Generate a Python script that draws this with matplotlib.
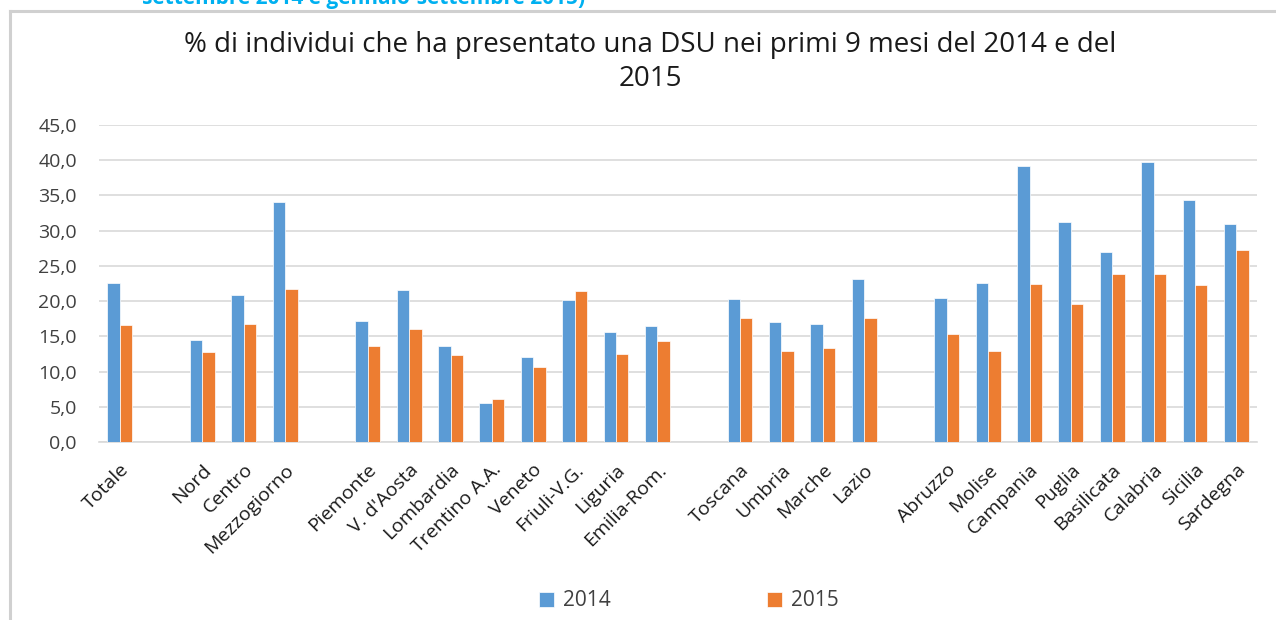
import numpy as np
import matplotlib
matplotlib.use("Agg")
from matplotlib import pyplot as plt
import matplotlib.transforms as mtrans
from matplotlib.lines import Line2D
from matplotlib.patches import Patch
from matplotlib.ticker import FuncFormatter

# categories (empty strings are the gaps between groups)
categories = ["Totale", "",
              "Nord", "Centro", "Mezzogiorno", "",
              "Piemonte", "V. d'Aosta", "Lombardia", "Trentino A.A.", "Veneto",
              "Friuli-V.G.", "Liguria", "Emilia-Rom.", "",
              "Toscana", "Umbria", "Marche", "Lazio", "",
              "Abruzzo", "Molise", "Campania", "Puglia", "Basilicata",
              "Calabria", "Sicilia", "Sardegna"]

nan = np.nan
val_2014 = [22.6, nan,
            14.5, 20.9, 34.0, nan,
            17.2, 21.6, 13.6, 5.5, 12.1, 20.1, 15.6, 16.4, nan,
            20.3, 17.1, 16.8, 23.1, nan,
            20.4, 22.6, 39.2, 31.2, 27.0, 39.7, 34.4, 30.9]
val_2015 = [16.6, nan,
            12.8, 16.8, 21.7, nan,
            13.6, 16.1, 12.3, 6.1, 10.6, 21.4, 12.5, 14.3, nan,
            17.6, 12.9, 13.3, 17.6, nan,
            15.3, 12.9, 22.4, 19.6, 23.9, 23.8, 22.3, 27.2]

series_names = ["2014", "2015"]
c_blue = "#5B9BD5"
c_orange = "#ED7D31"
grid_c = "#D9D9D9"
txt_c = "#404040"

plt.rcParams['font.family'] = ['Open Sans', 'DejaVu Sans']

W, H = 1276, 620
fig = plt.figure(figsize=(W / 100, H / 100), dpi=100)
ax = fig.add_axes([99 / W, 1 - 442 / H, (1257 - 99) / W, 317 / H])

x = np.arange(len(categories))
bw = 0.3
ax.bar(x - bw / 2, val_2014, bw, color=c_blue, edgecolor="white", linewidth=0.5, zorder=3)
ax.bar(x + bw / 2, val_2015, bw, color=c_orange, edgecolor="white", linewidth=0.5, zorder=3)

ax.set_xlim(-0.5, len(categories) - 0.5)
ax.set_ylim(0, 45)
ax.set_yticks(np.arange(0, 46, 5))
ax.yaxis.set_major_formatter(FuncFormatter(lambda v, p: f"{v:.1f}".replace(".", ",")))
ax.grid(axis="y", color=grid_c, linewidth=1.2, zorder=0)
for s in ["top", "right", "left"]:
    ax.spines[s].set_visible(False)
ax.spines["bottom"].set_color(grid_c)
ax.spines["bottom"].set_linewidth(1.2)
ax.tick_params(axis="y", length=0, pad=16, labelsize=14, labelcolor=txt_c)

ax.set_xticks(x)
ax.set_xticklabels(categories, rotation=45, ha="right", va="center",
                   rotation_mode="anchor", fontsize=14, color="#1a1a1a")
ax.tick_params(axis="x", length=0, pad=18)
offset = mtrans.ScaledTranslation(6 / 100, 0, fig.dpi_scale_trans)
for lab in ax.get_xticklabels():
    lab.set_transform(lab.get_transform() + offset)

fig.text(650 / W, 1 - 62 / H,
         "% di individui che ha presentato una DSU nei primi 9 mesi del 2014 e del\n2015",
         ha="center", va="center", fontsize=20, color="#1a1a1a", linespacing=1.25)

# cut-off header above the chart frame
fig.text(142 / W, 1 - 4 / H, "settembre 2014 e gennaio-settembre 2015)",
         ha="left", va="baseline", fontsize=15, fontweight="bold", color="#00B0F0")

# chart frame
fig.add_artist(Line2D([10 / W, 1.01], [1 - 11 / H, 1 - 11 / H], color="#D0D0D0", lw=2.2))
fig.add_artist(Line2D([10 / W, 10 / W], [1 - 11 / H, -0.01], color="#D0D0D0", lw=2.2))

handles = [Patch(facecolor=c_blue, edgecolor="white", linewidth=0.5),
           Patch(facecolor=c_orange, edgecolor="white", linewidth=0.5)]
fig.legend(handles, series_names, loc="center", bbox_to_anchor=(689 / W, 1 - 601 / H),
           ncol=2, frameon=False, fontsize=15, handlelength=0.7, handleheight=0.75,
           handletextpad=0.45, columnspacing=7.5, labelcolor=txt_c)

fig.savefig("out.png", dpi=100)
